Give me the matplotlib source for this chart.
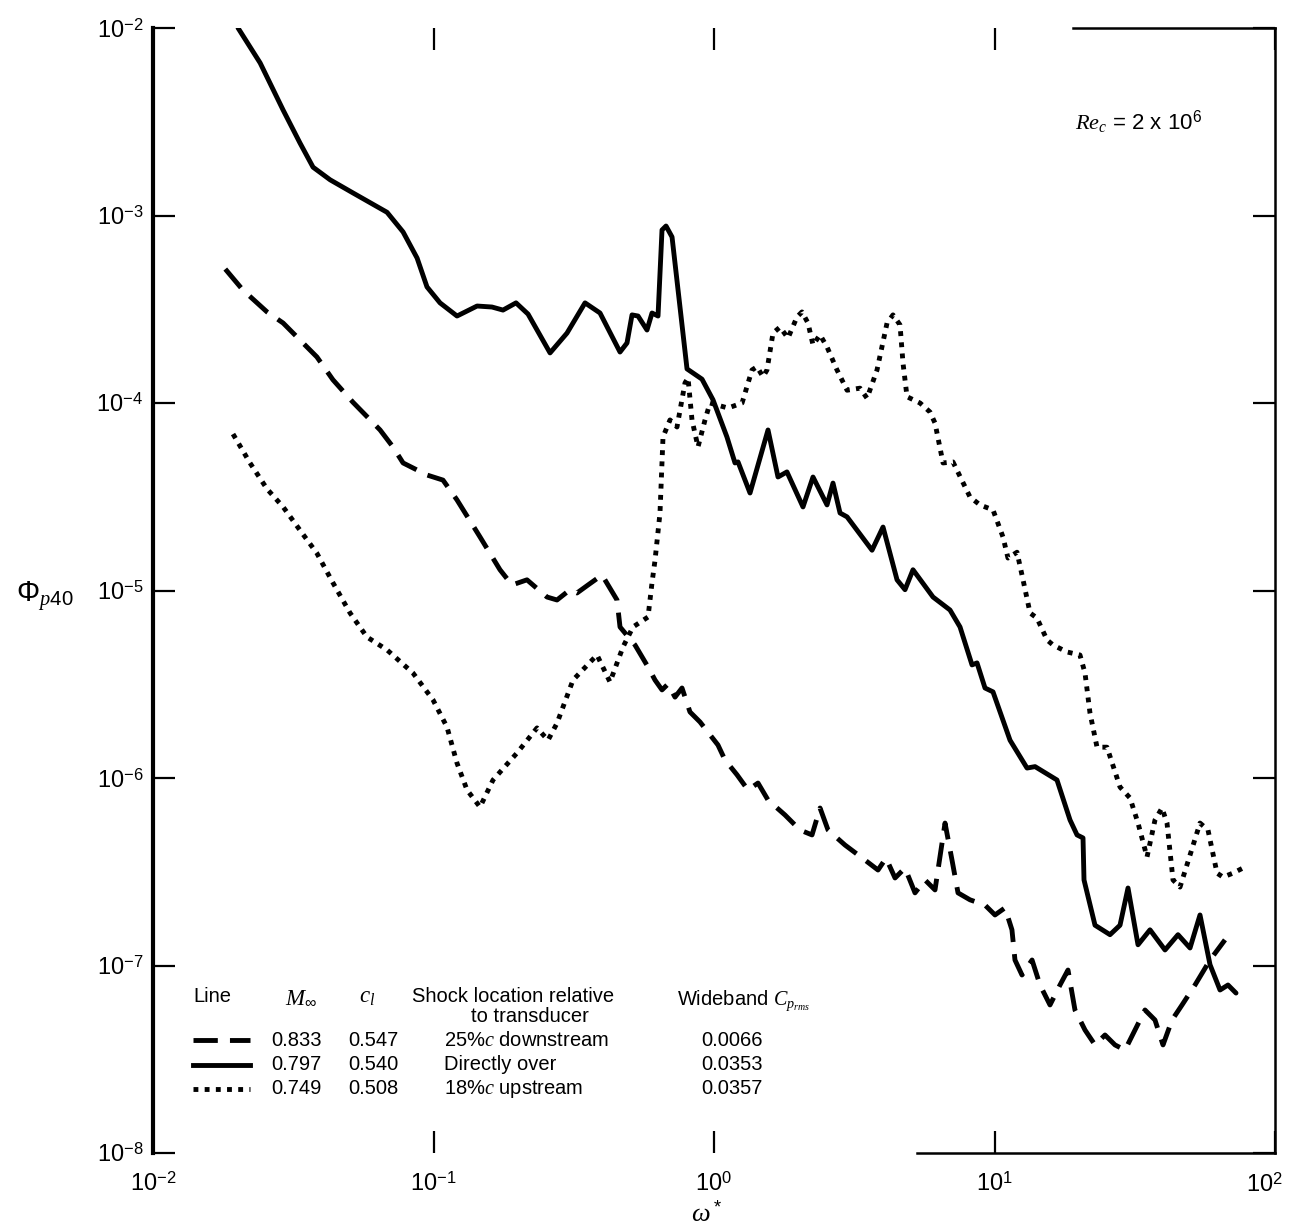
import matplotlib
matplotlib.use('Agg')
import matplotlib.pyplot as plt
from matplotlib.lines import Line2D
from matplotlib.ticker import NullLocator

plt.rcParams['font.family'] = ['Liberation Sans', 'DejaVu Sans']
plt.rcParams['mathtext.fontset'] = 'custom'
plt.rcParams['mathtext.rm'] = 'Liberation Sans'
plt.rcParams['mathtext.it'] = 'Liberation Serif:italic'
plt.rcParams['mathtext.bf'] = 'Liberation Sans:bold'

# ---------------- data ----------------
# M=0.797, shock directly over (solid)
solid_x = [2.01e-2, 2.41e-2, 2.91e-2, 3.34e-2, 3.72e-2, 4.28e-2, 5.16e-2, 6.83e-2, 7.79e-2, 8.74e-2,
           9.48e-2, 0.1055, 0.1213, 0.1430, 0.1616, 0.1769, 0.1969, 0.2173, 0.2603, 0.2992,
           0.3469, 0.3923, 0.4623, 0.4896, 0.5102, 0.5360, 0.5769, 0.6012, 0.6316, 0.6526,
           0.6745, 0.7086, 0.8013, 0.9062, 0.9918, 1.112, 1.188, 1.218, 1.344, 1.558,
           1.691, 1.820, 2.076, 2.254, 2.529, 2.656, 2.814, 2.981, 3.659, 4.005,
           4.493, 4.797, 5.122, 6.036, 6.940, 7.535, 8.315, 8.663, 9.250, 9.878,
           11.36, 13.06, 13.95, 16.70, 18.59, 19.69, 20.68, 20.85, 22.82, 25.81,
           28.02, 29.92, 32.48, 35.84, 40.54, 45.10, 49.78, 54.03, 58.66, 63.68,
           67.99, 72.61]
solid_y = [1.00e-2, 6.51e-3, 3.65e-3, 2.44e-3, 1.81e-3, 1.55e-3, 1.32e-3, 1.04e-3, 8.17e-4, 5.93e-4,
           4.16e-4, 3.42e-4, 2.91e-4, 3.29e-4, 3.25e-4, 3.13e-4, 3.42e-4, 2.98e-4, 1.85e-4, 2.36e-4,
           3.42e-4, 3.02e-4, 1.87e-4, 2.09e-4, 2.95e-4, 2.91e-4, 2.45e-4, 3.02e-4, 2.91e-4, 8.37e-4,
           8.79e-4, 7.68e-4, 1.52e-4, 1.34e-4, 1.04e-4, 6.59e-5, 4.79e-5, 4.85e-5, 3.31e-5, 7.18e-5,
           4.03e-5, 4.29e-5, 2.79e-5, 4.03e-5, 2.86e-5, 3.74e-5, 2.59e-5, 2.47e-5, 1.64e-5, 2.18e-5,
           1.14e-5, 1.01e-5, 1.29e-5, 9.23e-6, 7.87e-6, 6.39e-6, 4.01e-6, 4.11e-6, 3.02e-6, 2.88e-6,
           1.59e-6, 1.13e-6, 1.15e-6, 9.76e-7, 5.97e-7, 4.97e-7, 4.79e-7, 2.86e-7, 1.64e-7, 1.46e-7,
           1.64e-7, 2.59e-7, 1.29e-7, 1.55e-7, 1.21e-7, 1.46e-7, 1.24e-7, 1.86e-7, 1.01e-7, 7.40e-8,
           7.87e-8, 7.13e-8]

# M=0.833, shock 25%c downstream (dashed)
dash_x = [1.81e-2, 2.09e-2, 2.55e-2, 2.91e-2, 3.34e-2, 3.84e-2, 4.38e-2, 5.16e-2, 6.45e-2, 7.17e-2,
          7.79e-2, 9.48e-2, 0.1081, 0.1213, 0.1465, 0.1726, 0.1905, 0.2154, 0.2539, 0.2756,
          0.3067, 0.3248, 0.3555, 0.3988, 0.4511, 0.4623, 0.5229, 0.5818, 0.6162, 0.6526,
          0.6855, 0.7261, 0.7690, 0.8210, 0.8914, 0.9676, 1.033, 1.094, 1.208, 1.322,
          1.435, 1.558, 1.791, 2.026, 2.236, 2.388, 2.550, 2.931, 3.454, 3.843,
          4.105, 4.420, 4.797, 5.207, 5.652, 6.136, 6.663, 7.055, 7.412, 8.180,
          9.250, 10.04, 10.90, 11.54, 11.83, 12.53, 13.61, 14.53, 15.77, 17.12,
          18.28, 19.36, 21.02, 22.82, 24.77, 26.89, 29.19, 31.69, 34.40, 37.34,
          39.88, 42.94, 46.62, 51.86, 58.66, 66.33]
dash_y = [5.18e-4, 4.01e-4, 3.06e-4, 2.67e-4, 2.17e-4, 1.76e-4, 1.33e-4, 1.01e-4, 7.18e-5, 5.83e-5,
          4.79e-5, 4.13e-5, 3.88e-5, 3.04e-5, 1.93e-5, 1.29e-5, 1.07e-5, 1.14e-5, 9.23e-6, 8.90e-6,
          1.01e-5, 9.70e-6, 1.07e-5, 1.21e-5, 8.90e-6, 6.39e-6, 5.12e-6, 3.91e-6, 3.33e-6, 2.95e-6,
          3.17e-6, 2.70e-6, 3.02e-6, 2.25e-6, 1.99e-6, 1.70e-6, 1.50e-6, 1.25e-6, 1.04e-6, 8.63e-7,
          9.40e-7, 7.63e-7, 6.35e-7, 5.28e-7, 4.97e-7, 6.92e-7, 5.28e-7, 4.39e-7, 3.65e-7, 3.23e-7,
          3.74e-7, 2.93e-7, 3.31e-7, 2.44e-7, 2.86e-7, 2.53e-7, 5.75e-7, 3.65e-7, 2.44e-7, 2.24e-7,
          2.10e-7, 1.86e-7, 2.03e-7, 1.55e-7, 1.07e-7, 8.90e-8, 1.07e-7, 7.87e-8, 6.16e-8, 7.87e-8,
          9.46e-8, 5.79e-8, 4.53e-8, 3.77e-8, 4.26e-8, 3.77e-8, 3.54e-8, 4.53e-8, 5.79e-8, 5.12e-8,
          3.77e-8, 5.12e-8, 6.16e-8, 7.87e-8, 1.07e-7, 1.37e-7]

# M=0.749, shock 18%c upstream (dotted)
dot_x = [1.929e-2, 2.217e-2, 2.55e-2, 2.91e-2, 3.34e-2, 3.84e-2, 4.38e-2, 5.04e-2, 5.79e-2, 6.83e-2,
         8.45e-2, 9.96e-2, 0.1117, 0.1213, 0.1317, 0.1465, 0.1630, 0.1985, 0.2339, 0.2560,
         0.2756, 0.3143, 0.3828, 0.4258, 0.4738, 0.5143, 0.5818, 0.6012, 0.6162, 0.6419,
         0.6580, 0.6968, 0.7381, 0.7882, 0.8080, 0.8348, 0.8770, 0.9289, 0.9676, 1.122,
         1.259, 1.366, 1.423, 1.495, 1.545, 1.623, 1.719, 1.836, 1.977, 2.059,
         2.163, 2.254, 2.388, 2.529, 2.745, 2.981, 3.316, 3.512, 3.812, 4.139,
         4.346, 4.604, 4.719, 4.877, 5.426, 5.890, 6.136, 6.554, 7.112, 8.180,
         8.878, 9.878, 10.72, 11.17, 12.03, 12.64, 13.39, 14.17, 15.39, 16.17,
         18.14, 20.17, 21.02, 21.90, 23.20, 25.18, 28.02, 30.42, 32.48, 34.97,
         37.34, 39.55, 41.21, 43.29, 45.85, 49.78, 54.03, 57.69, 62.14, 65.25,
         70.85, 76.89]
dot_y = [6.83e-5, 4.79e-5, 3.48e-5, 2.79e-5, 2.10e-5, 1.58e-5, 1.10e-5, 7.59e-6, 5.65e-6, 4.82e-6,
         3.63e-6, 2.61e-6, 1.87e-6, 1.20e-6, 8.63e-7, 7.00e-7, 9.76e-7, 1.36e-6, 1.85e-6, 1.59e-6,
         1.96e-6, 3.33e-6, 4.53e-6, 3.25e-6, 5.00e-6, 6.39e-6, 7.22e-6, 1.10e-5, 1.45e-5, 2.59e-5,
         6.59e-5, 8.12e-5, 7.45e-5, 1.28e-4, 1.36e-4, 8.12e-5, 5.83e-5, 8.12e-5, 1.00e-4, 9.40e-5,
         1.00e-4, 1.50e-4, 1.56e-4, 1.38e-4, 1.50e-4, 2.36e-4, 2.54e-4, 2.22e-4, 2.88e-4, 3.06e-4,
         2.67e-4, 2.04e-4, 2.31e-4, 1.99e-4, 1.50e-4, 1.17e-4, 1.20e-4, 1.06e-4, 1.50e-4, 2.67e-4,
         2.95e-4, 2.61e-4, 1.63e-4, 1.08e-4, 1.00e-4, 8.95e-5, 7.82e-5, 4.79e-5, 4.85e-5, 3.15e-5,
         2.86e-5, 2.69e-5, 1.93e-5, 1.49e-5, 1.60e-5, 1.14e-5, 7.59e-6, 7.13e-6, 5.45e-6, 5.12e-6,
         4.70e-6, 4.53e-6, 3.63e-6, 2.22e-6, 1.46e-6, 1.46e-6, 8.95e-7, 7.82e-7, 5.75e-7, 3.79e-7,
         5.97e-7, 6.92e-7, 5.75e-7, 2.86e-7, 2.62e-7, 3.88e-7, 5.75e-7, 5.28e-7, 3.11e-7, 2.96e-7,
         3.11e-7, 3.31e-7]

# axis ticks and labels
x_ticks = [1e-2, 1e-1, 1e0, 1e1, 1e2]
x_tick_labels = [r'$10^{-2}$', r'$10^{-1}$', r'$10^{0}$', r'$10^{1}$', r'$10^{2}$']
y_ticks = [1e-8, 1e-7, 1e-6, 1e-5, 1e-4, 1e-3, 1e-2]
y_tick_labels = [r'$10^{-8}$', r'$10^{-7}$', r'$10^{-6}$', r'$10^{-5}$', r'$10^{-4}$',
                 r'$10^{-3}$', r'$10^{-2}$']

# legend table
legend_mach = ['0.833', '0.797', '0.749']
legend_cl = ['0.547', '0.540', '0.508']
legend_shock = [r'25%$c$ downstream', 'Directly over', r'18%$c$ upstream']
legend_cprms = ['0.0066', '0.0353', '0.0357']

# ---------------- figure ----------------
W, H = 1290, 1230
fig = plt.figure(figsize=(W / 100, H / 100), dpi=100)
ax = fig.add_axes([153 / W, 1 - 1153 / H, (1275 - 153) / W, (1153 - 28) / H])
ax.set_xscale('log')
ax.set_yscale('log')
ax.set_xlim(1e-2, 1e2)
ax.set_ylim(1e-8, 1e-2)

LW = 3.5
dash_style = (0, (5, 2.5))
dot_style = (0, (1, 1.3))
ax.plot(solid_x, solid_y, color='black', lw=LW, solid_joinstyle='round', solid_capstyle='round')
ax.plot(dash_x, dash_y, color='black', lw=LW, linestyle=dash_style, dash_capstyle='butt',
        dash_joinstyle='round')
ax.plot(dot_x, dot_y, color='black', lw=LW, linestyle=dot_style, dash_capstyle='butt')

ax.set_xticks(x_ticks)
ax.set_xticklabels(x_tick_labels[:-1] + [''])
ax.set_yticks(y_ticks)
ax.set_yticklabels(y_tick_labels)
ax.xaxis.set_minor_locator(NullLocator())
ax.yaxis.set_minor_locator(NullLocator())
ax.tick_params(which='major', direction='in', length=16, width=1.6, labelsize=17,
               top=True, right=True, bottom=True, left=True)
ax.tick_params(axis='x', pad=14)
ax.tick_params(axis='y', pad=7)

ax.spines['left'].set_linewidth(3.0)
for s in ['right', 'top', 'bottom']:
    ax.spines[s].set_linewidth(1.8)
ax.spines['bottom'].set_bounds(5.3, 1e2)
ax.spines['top'].set_bounds(19, 1e2)


def fx(px):
    return px / W


def fy(py):
    return 1 - py / H


# last x tick label placed slightly inside the canvas (as in the reference)
fig.text(fx(1264), fy(1185), x_tick_labels[-1], fontsize=17, ha='center', va='center')

fig.text(fx(707), fy(1214), r'$\omega^*$', fontsize=19, ha='center', va='center')
fig.text(fx(45), fy(596), r'$\Phi_{p40}$', fontsize=21, ha='center', va='center')

fig.text(fx(1075), fy(122), r'$Re_c$ = 2 x 10$^6$', fontsize=16, va='center', ha='left')

# legend table
fs = 14.5
fig.text(fx(212), fy(997), 'Line', fontsize=fs, ha='center', va='center')
fig.text(fx(301), fy(997), r'$M_\infty$', fontsize=fs + 2, ha='center', va='center')
fig.text(fx(367), fy(997), r'$c_l$', fontsize=fs + 2, ha='center', va='center')
fig.text(fx(513), fy(996), 'Shock location relative', fontsize=fs, ha='center', va='center')
fig.text(fx(530), fy(1017), 'to transducer', fontsize=fs, ha='center', va='center')
fig.text(fx(677), fy(1001), r'Wideband $C_{p_{rms}}$', fontsize=fs, ha='left', va='center')

row_y = [1040, 1065, 1089]
styles = [dash_style, '-', dot_style]
for i in range(3):
    y = fy(row_y[i])
    fig.add_artist(Line2D([fx(193), fx(250)], [y, y], transform=fig.transFigure,
                          color='black', lw=LW, linestyle=styles[i], dash_capstyle='butt'))
    fig.text(fx(296), y, legend_mach[i], fontsize=fs, ha='center', va='center')
    fig.text(fx(373), y, legend_cl[i], fontsize=fs, ha='center', va='center')
    fig.text(fx(444), y, legend_shock[i], fontsize=fs, ha='left', va='center')
    fig.text(fx(701), y, legend_cprms[i], fontsize=fs, ha='left', va='center')

fig.savefig('out.png', dpi=100)
